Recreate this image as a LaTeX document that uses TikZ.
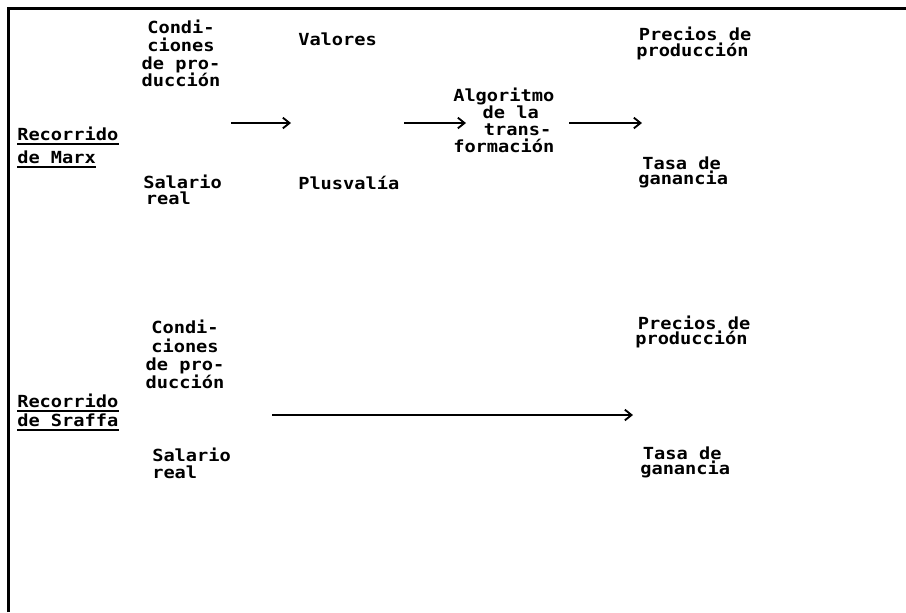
\documentclass[tikz,border=0pt]{standalone}
\usepackage{fontspec}
\newfontfamily\dosfont{DejaVu Sans Mono}[FakeStretch=1.12]
\usetikzlibrary{arrows.meta}
\tikzset{
  lbl/.style={inner sep=0pt, font=\dosfont\bfseries\fontsize{12.5}{13}\selectfont},
  sp/.style={font=\dosfont\bfseries\fontsize{12.5}{#1}\selectfont},
  uline/.style={line width=1.5pt},
  frame/.style={line width=2.25pt},
  conn/.style={line width=1.1pt, -{Straight Barb[length=5pt,width=8pt,line width=1.4pt]}}
}
\begin{document}
\begin{tikzpicture}[x=0.75pt,y=-0.75pt]
\useasboundingbox (0,0) rectangle (906,612);
% frame (top and left edges)
\coordinate (fbl) at (8.3,612);
\coordinate (ftl) at (8.3,8.3);
\coordinate (ftr) at (906,8.3);
\draw[frame] (fbl) -- (ftl) -- (ftr);

% ---- Recorrido de Marx ----
\node[lbl, anchor=west] (m1) at (17,134) {Recorrido};
\node[lbl, anchor=west] (m2) at (17,157) {de Marx};
\draw[uline] ([yshift=-2.5pt]m1.base west) -- ([yshift=-2.5pt]m1.base east);
\draw[uline] ([yshift=-2.5pt]m2.base west) -- ([yshift=-2.5pt]m2.base east);

\node[lbl, sp=13.4pt, align=center, anchor=center] (cond1) at (181,53.5) {Condi-\\ciones\\de pro-\\ducción};
\node[lbl, sp=12.2pt, align=left, anchor=west] (sal1) at (143,190) {Salario\\\hspace*{2pt}real};
\node[lbl, anchor=west] (val) at (298,39) {Valores};
\node[lbl, anchor=west] (plus) at (298,183) {Plusvalía};
\node[lbl, sp=12.75pt, align=left, anchor=west] (alg) at (453,120.5) {Algoritmo\\\hspace*{22pt}de la\\\hspace*{23pt}trans-\\formación};
\node[lbl, sp=12pt, align=left, anchor=west] (prec1) at (636,43) {\hspace*{2pt}Precios de\\producción};
\node[lbl, sp=11pt, align=left, anchor=west] (tasa1) at (638,172.5) {\hspace*{3pt}Tasa de\\ganancia};

\coordinate (a1s) at (231,123); \coordinate (a1e) at (291,123);
\coordinate (a2s) at (404,123); \coordinate (a2e) at (466,123);
\coordinate (a3s) at (569,123); \coordinate (a3e) at (642,123);
\draw[conn] (a1s) -- (a1e);
\draw[conn] (a2s) -- (a2e);
\draw[conn] (a3s) -- (a3e);

% ---- Recorrido de Sraffa ----
\node[lbl, anchor=west] (s1) at (17,401) {Recorrido};
\node[lbl, anchor=west] (s2) at (17,420) {de Sraffa};
\draw[uline] ([yshift=-2.5pt]s1.base west) -- ([yshift=-2.5pt]s1.base east);
\draw[uline] ([yshift=-2.5pt]s2.base west) -- ([yshift=-2.5pt]s2.base east);

\node[lbl, sp=13.6pt, align=center, anchor=center] (cond2) at (185,354.5) {Condi-\\ciones\\de pro-\\ducción};
\node[lbl, sp=12.75pt, align=left, anchor=west] (sal2) at (152,463.5) {Salario\\real};
\node[lbl, sp=11.8pt, align=left, anchor=west] (prec2) at (635,332) {\hspace*{2pt}Precios de\\producción};
\node[lbl, sp=11pt, align=left, anchor=west] (tasa2) at (640,462.5) {\hspace*{2pt}Tasa de\\ganancia};

\coordinate (a4s) at (272,415); \coordinate (a4e) at (633,415);
\draw[conn] (a4s) -- (a4e);
\end{tikzpicture}
\end{document}
